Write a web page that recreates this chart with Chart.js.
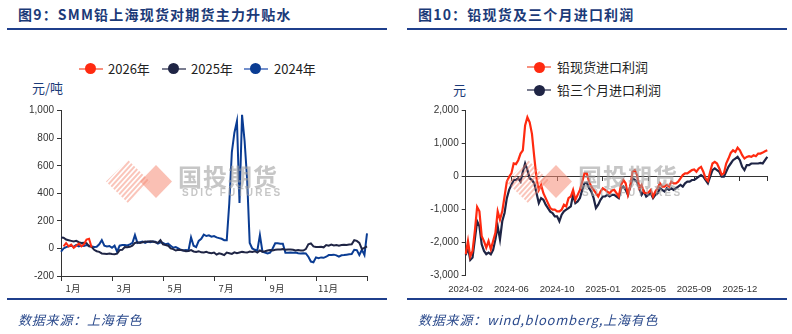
<!DOCTYPE html>
<html>
<head>
<meta charset="utf-8">
<script src="https://cdn.jsdelivr.net/npm/chart.js@4/dist/chart.umd.min.js"></script>
<style>
body{margin:0;background:#fff;width:792px;height:334px;position:relative;overflow:hidden;font-family:"Noto Sans CJK SC","Noto Sans",sans-serif;}
.t{position:absolute;white-space:nowrap}
.title{top:6px;font-size:14px;line-height:17px;font-weight:bold;letter-spacing:1.2px;color:#1b3a78}
.src{top:312px;font-size:13px;line-height:16px;font-style:italic;letter-spacing:.8px;color:#2b4a8c}
.unit{font-size:13px;line-height:16px;color:#1b3a78}
.leg{font-size:13px;line-height:16px;color:#222}
.rule{position:absolute;height:2px;background:#1f3f8c}
.mk{position:absolute;height:2px;width:24px}
.dot{position:absolute;width:11px;height:11px;border-radius:50%}
canvas{position:absolute}
</style>
</head>
<body>
<!-- left panel -->
<div class="t title" style="left:18px">图9：SMM铅上海现货对期货主力升贴水</div>
<div class="rule" style="left:7px;width:380px;top:28px"></div>
<div class="mk" style="left:79px;top:67.5px;background:#f8907e"></div><div class="dot" style="left:85px;top:63px;background:#ff2a10"></div>
<div class="t leg" style="left:108px;top:60.5px">2026年</div>
<div class="mk" style="left:162px;top:67.5px;background:#7a7d90"></div><div class="dot" style="left:168px;top:63px;background:#1f2545"></div>
<div class="t leg" style="left:191px;top:60.5px">2025年</div>
<div class="mk" style="left:244px;top:67.5px;background:#7390cc"></div><div class="dot" style="left:250px;top:63px;background:#0a3c93"></div>
<div class="t leg" style="left:274px;top:60.5px">2024年</div>
<div class="t unit" style="left:32px;top:80px">元/吨</div>
<canvas id="c1" width="392" height="200" style="left:0;top:100px"></canvas>
<div class="rule" style="left:7px;width:380px;top:298px"></div>
<div class="t src" style="left:18px">数据来源：上海有色</div>

<!-- right panel -->
<div class="t title" style="left:418px">图10：铅现货及三个月进口利润</div>
<div class="rule" style="left:407px;width:380px;top:28px"></div>
<div class="mk" style="left:527px;top:66px;background:#f8907e"></div><div class="dot" style="left:534px;top:61.5px;background:#ff2a10"></div>
<div class="t leg" style="left:557px;top:58.7px">铅现货进口利润</div>
<div class="mk" style="left:527px;top:89px;background:#7a7d90"></div><div class="dot" style="left:534px;top:84.5px;background:#1f2545"></div>
<div class="t leg" style="left:557px;top:82px">铅三个月进口利润</div>
<div class="t unit" style="left:453px;top:81.5px">元</div>
<canvas id="c2" width="392" height="200" style="left:400px;top:100px"></canvas>
<div class="rule" style="left:407px;width:380px;top:298px"></div>
<div class="t src" style="left:418px">数据来源：wind,bloomberg,上海有色</div>

<script>
// ---- fig 9: spot vs futures premium, one point every ~3 days of the year
const months = ['1月', '3月', '5月', '7月', '9月', '11月'];
const dayIdx = Array.from({length: 121}, (_, i) => i);

const lead2026 = [null, 15, 38, 15, 28, 5, 20, 35, 15, 30, 65, 70, 8];

const lead2025 = [
  80, 78, 65, 60, 55, 50, 55, 45, 40, 42,
  38, 15, 12, -10, -20, -25, -36, -38, -40, -36,
  -40, -42, -38, -12, -10, 10, 8, 12, 20, 40,
  45, 40, 45, 50, 48, 52, 50, 45, 40, 60,
  30, 25, 20, 0, -5, -15, -10, -12, -15, -20,
  -18, -12, -22, -25, -20, -28, -30, -25, -32, -35,
  -30, -45, -35, -40, -48, -30, -35, -40, -28, -35,
  -30, -25, -28, -30, -22, -25, -20, -30, -15, -24,
  -20, -15, -12, -15, -10, -8, -7, -5, -10, -7,
  -8, -10, -15, -12, -15, -15, -5, 30, 37, 15,
  10, 10, 12, 8, 25, 20, 28, 22, 25, 20,
  25, 26, 25, 28, 30, 60, 55, 40, -5, 5,
  15
];

const lead2024 = [
  -24, 0, 10, 15, 20, 12, 25, 15, 22, 18,
  25, 20, 15, 10, 12, 30, 60, 20, 15, 18,
  5, 20, -24, 20, 25, 25, 22, 30, 40, 97,
  40, 45, 50, 40, 50, 45, 50, 48, 35, 45,
  40, 30, 35, 20, 5, 10, 0, -10, -15, -12,
  -15, 80, 20, 10, 55, 70, 100, 90, 95, 85,
  90, 80, 75, 70, 60, 60, 330, 700, 840, 925,
  330, 970, 780, 500, 40, 0, -10, -15, 97, -24,
  -30, -36, -30, 0, 37, 37, 35, 35, -31, -31,
  -30, -31, -30, -35, -36, -35, -36, -60, -95, -100,
  -65, -70, -65, -68, -60, -48, -48, -45, -50, -60,
  -50, -48, -45, -42, -40, -10, -12, -48, -10, -48,
  110
];

// ---- fig 10: import profit, roughly weekly since 2024-02
const dateTicks = ['2024-02', '2024-06', '2024-10', '2025-01', '2025-05', '2025-09', '2025-12'];
const weekIdx = Array.from({length: 133}, (_, i) => i);

const spotProfit = [
  -2350, -1950, -2420, -2250, -1650, -920, -1050, -1800, -1950, -2150,
  -1950, -2200, -1950, -1700, -1050, -1300, -1050, -600, -150, 0,
  100, 400, 380, 500, 700, 800, 1550, 1800, 1650, 1300,
  600, -50, -400, -250, -500, -650, -800, -950, -1000, -1000,
  -1050, -1050, -1000, -850, -900, -650, -600, -400, -700, -550,
  -400, -150, 100, 100, -150, -300, -400, -500, -600, -450,
  -350, -400, -450, -500, -420, -400, -500, -600, -250, -100,
  -200, -550, -300, 150, 200, 50, -350, -250, -480, -500,
  -480, -400, -600, -450, -350, -200, -300, -300, -250, -300,
  -150, -200, -200, -150, -50, 50, 100, 100, 150, 200,
  220, 150, 250, 300, 150, -50, -130, 150, 400, 450,
  400, 250, 60, 100, 400, 550, 720, 800, 750, 880,
  800, 650, 550, 600, 620, 600, 650, 620, 700, 700,
  730, 770, 800
];

const threeMonthProfit = [
  -2380, -2150, -2520, -2450, -1900, -1350, -1500, -2050, -2250, -2350,
  -2300, -2350, -2220, -1900, -1500, -1900, -1350, -1100, -650, -400,
  -250, -100, -100, -50, -150, 150, 400, 200, -50, -100,
  -200, -500, -800, -650, -700, -850, -950, -1060, -1100, -1200,
  -1200, -1350, -1150, -1050, -1000, -950, -900, -550, -800, -750,
  -650, -400, -200, -180, -350, -450, -650, -950, -850, -700,
  -600, -600, -550, -600, -550, -550, -600, -650, -350, -300,
  -400, -550, -300, -50, -100, -150, -350, -550, -450, -600,
  -550, -500, -650, -550, -500, -350, -400, -450, -350, -400,
  -350, -400, -350, -300, -250, -300, -200, -150, -150, -100,
  -100, -50, 0, 50, 0, -100, -200, 0, 200, 250,
  200, 150, 0, 0, 150, 300, 400, 500, 550, 600,
  500, 300, 200, 350, 350, 400, 400, 400, 400, 420,
  400, 500, 600
];

const AXIS = '#333';
const NUM_FONT = 'Liberation Sans, Arial, sans-serif';
const CJK_FONT = '"Noto Sans CJK SC", sans-serif';

// faint company watermark, same spot in both panels
const watermark = {
  id: 'watermark',
  afterDatasetsDraw(chart) {
    const ctx = chart.ctx;
    ctx.save();
    // solid diamond
    ctx.fillStyle = 'rgba(246,140,118,0.55)';
    ctx.beginPath();
    ctx.moveTo(156, 65); ctx.lineTo(172, 81.5); ctx.lineTo(156, 98); ctx.lineTo(140, 81.5);
    ctx.closePath(); ctx.fill();
    // striped diamond
    ctx.beginPath();
    ctx.moveTo(128, 60); ctx.lineTo(150, 81.5); ctx.lineTo(128, 103); ctx.lineTo(106, 81.5);
    ctx.closePath(); ctx.clip();
    ctx.strokeStyle = 'rgba(246,140,118,0.5)';
    ctx.lineWidth = 2;
    for (let k = -40; k <= 40; k += 5) {
      ctx.beginPath(); ctx.moveTo(100 + k, 110); ctx.lineTo(150 + k, 55); ctx.stroke();
    }
    ctx.restore();
    ctx.save();
    ctx.fillStyle = 'rgba(160,160,160,0.6)';
    ctx.textBaseline = 'middle';
    ctx.font = 'bold 24px ' + CJK_FONT;
    ctx.letterSpacing = '1px';
    ctx.fillText('国投期货', 178, 77);
    ctx.font = 'bold 10px ' + NUM_FONT;
    ctx.letterSpacing = '2.2px';
    ctx.fillText('SDIC FUTURES', 182, 93);
    ctx.restore();
  }
};

Chart.defaults.font.family = NUM_FONT;
Chart.defaults.color = AXIS;

new Chart(document.getElementById('c1'), {
  type: 'line',
  data: {
    labels: dayIdx,
    datasets: [
      { label: '2026年', data: lead2026, borderColor: '#ff2a10' },
      { label: '2025年', data: lead2025, borderColor: '#1f2545' },
      { label: '2024年', data: lead2024, borderColor: '#0a3c93' }
    ]
  },
  options: {
    responsive: false, animation: false,
    layout: { padding: { top: 10.7, right: 25, left: 0, bottom: 0 } },
    elements: { point: { radius: 0 }, line: { borderWidth: 2, tension: 0 } },
    plugins: { legend: { display: false }, tooltip: { enabled: false } },
    scales: {
      x: {
        afterBuildTicks: s => { s.ticks = s.ticks.filter(t => t.value % 20 === 0); },
        afterFit: s => { s.height = 24; },
        border: { color: AXIS },
        grid: { drawOnChartArea: false, tickLength: 5, color: AXIS },
        ticks: { autoSkip: false, maxRotation: 0, labelOffset: 12, padding: 2,
                 font: { family: CJK_FONT, size: 9.5 }, callback: v => months[v / 20] ?? '' }
      },
      y: {
        min: -200, max: 1000,
        afterFit: s => { s.width = 61; },
        border: { color: AXIS },
        grid: { drawOnChartArea: false, tickLength: 4, color: AXIS },
        ticks: { stepSize: 200, padding: 3, font: { size: 10 }, callback: v => v.toLocaleString('en-US') }
      }
    }
  },
  plugins: [watermark]
});

new Chart(document.getElementById('c2'), {
  type: 'line',
  data: {
    labels: weekIdx,
    datasets: [
      { label: '铅现货进口利润', data: spotProfit, borderColor: '#ff2a10' },
      { label: '铅三个月进口利润', data: threeMonthProfit, borderColor: '#1f2545' }
    ]
  },
  options: {
    responsive: false, animation: false,
    layout: { padding: { top: 10.7, right: 24.7, left: 0, bottom: 0 } },
    elements: { point: { radius: 0 }, line: { borderWidth: 2.2, tension: 0 } },
    plugins: { legend: { display: false }, tooltip: { enabled: false } },
    scales: {
      x: {
        afterBuildTicks: s => { s.ticks = s.ticks.filter(t => t.value % 20 === 0); },
        afterFit: s => { s.height = 24.3; },
        border: { display: false },
        grid: { display: false, drawTicks: false },
        ticks: { autoSkip: false, maxRotation: 0, padding: 8, font: { size: 9.5 },
                 callback: v => dateTicks[v / 20] ?? '' }
      },
      // zero line with its tick marks
      x0: {
        type: 'category', axis: 'x', position: { y: 0 },
        afterBuildTicks: s => { s.ticks = s.ticks.filter(t => t.value % 20 === 0 || t.value === 132); },
        border: { color: AXIS },
        grid: { drawOnChartArea: false, tickLength: 4, color: AXIS },
        ticks: { display: false, autoSkip: false }
      },
      y: {
        min: -3000, max: 2000,
        afterFit: s => { s.width = 65.7; },
        border: { color: AXIS },
        grid: { drawOnChartArea: false, tickLength: 4, color: AXIS },
        ticks: { stepSize: 1000, padding: 3, font: { size: 10 }, callback: v => v.toLocaleString('en-US') }
      }
    }
  },
  plugins: [watermark]
});
</script>
</body>
</html>
